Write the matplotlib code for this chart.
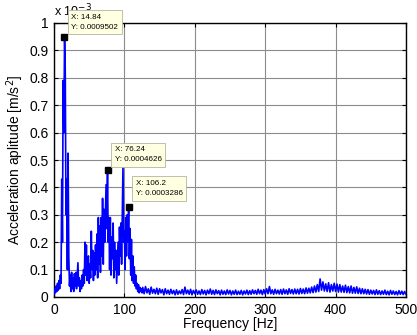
import numpy as np
import matplotlib
matplotlib.use("Agg")
import matplotlib.pyplot as plt

# ------------------------------------------------------------
# Spectrum values (x 10^-3 m/s^2)
# ------------------------------------------------------------
# 0 .. 125 Hz, 1 Hz steps
low_freq = np.arange(0, 126, 1)
low_amp = [
    0.01, 0.03, 0.015, 0.04, 0.02, 0.05, 0.025, 0.06, 0.03, 0.08,
    0.05, 0.43, 0.2, 0.79, 0.6, 0.95, 0.82, 0.3, 0.43, 0.1,
    0.525, 0.15, 0.04, 0.08, 0.02, 0.09, 0.03, 0.07, 0.02, 0.085,
    0.04, 0.09, 0.03, 0.08, 0.125, 0.04, 0.07, 0.02, 0.06, 0.03,
    0.08, 0.04, 0.1, 0.05, 0.2, 0.08, 0.19, 0.06, 0.14, 0.15,
    0.05, 0.12, 0.07, 0.24, 0.1, 0.17, 0.06, 0.16, 0.08, 0.19,
    0.1, 0.23, 0.07, 0.29, 0.12, 0.26, 0.09, 0.29, 0.15, 0.36,
    0.12, 0.32, 0.2, 0.31, 0.41, 0.25, 0.4626, 0.2, 0.29, 0.1,
    0.29, 0.08, 0.22, 0.14, 0.27, 0.07, 0.2, 0.1, 0.17, 0.05,
    0.12, 0.2, 0.08, 0.255, 0.15, 0.27, 0.12, 0.3, 0.48, 0.2,
    0.24, 0.1, 0.29, 0.15, 0.3, 0.2, 0.3286, 0.14, 0.25, 0.08,
    0.21, 0.06, 0.15, 0.05, 0.11, 0.04, 0.08, 0.03, 0.05, 0.02,
    0.045, 0.015, 0.035, 0.02, 0.03, 0.015,
]

# 126 .. 500 Hz, 2 Hz steps
high_freq = np.arange(126, 501, 2)
high_amp = [
    0.035, 0.012, 0.038, 0.015, 0.03, 0.01, 0.036, 0.014, 0.028, 0.012,
    0.032, 0.01, 0.03, 0.015, 0.027, 0.008, 0.03, 0.012, 0.025, 0.01,
    0.028, 0.012, 0.024, 0.008, 0.026, 0.01, 0.022, 0.012, 0.027, 0.009,
    0.036, 0.012, 0.025, 0.01, 0.028, 0.008, 0.024, 0.012, 0.026, 0.01,
    0.022, 0.009, 0.027, 0.011, 0.024, 0.008, 0.025, 0.012, 0.029, 0.01,
    0.024, 0.009, 0.026, 0.012, 0.023, 0.008, 0.025, 0.01, 0.022, 0.009,
    0.026, 0.011, 0.024, 0.008, 0.022, 0.01, 0.025, 0.009, 0.021, 0.01,
    0.024, 0.008, 0.022, 0.011, 0.025, 0.009, 0.023, 0.01, 0.026, 0.012,
    0.024, 0.01, 0.028, 0.012, 0.025, 0.009, 0.027, 0.011, 0.03, 0.012,
    0.038, 0.012, 0.026, 0.01, 0.028, 0.012, 0.025, 0.011, 0.027, 0.01,
    0.029, 0.012, 0.026, 0.01, 0.03, 0.013, 0.027, 0.011, 0.029, 0.012,
    0.028, 0.011, 0.031, 0.013, 0.029, 0.012, 0.033, 0.014, 0.032, 0.015,
    0.036, 0.016, 0.04, 0.018, 0.045, 0.02, 0.066, 0.025, 0.055, 0.022,
    0.048, 0.02, 0.052, 0.018, 0.045, 0.022, 0.05, 0.02, 0.047, 0.018,
    0.045, 0.018, 0.04, 0.017, 0.043, 0.016, 0.038, 0.015, 0.04, 0.014,
    0.035, 0.014, 0.037, 0.013, 0.032, 0.012, 0.03, 0.012, 0.028, 0.011,
    0.027, 0.01, 0.025, 0.011, 0.024, 0.009, 0.026, 0.01, 0.023, 0.009,
    0.022, 0.01, 0.025, 0.009, 0.021, 0.008, 0.024, 0.01, 0.022, 0.009,
    0.02, 0.008, 0.023, 0.01, 0.021, 0.009, 0.02, 0.01,
]

# data tips
tip_x = [14.84, 76.24, 106.2]
tip_y = [0.0009502, 0.0004626, 0.0003286]
tip_offsets = [(7, 6), (7, 7), (7, 10)]

x_ticks = [0, 100, 200, 300, 400, 500]
y_ticks = [0, 0.1, 0.2, 0.3, 0.4, 0.5, 0.6, 0.7, 0.8, 0.9, 1]
y_tick_labels = ["0", "0.1", "0.2", "0.3", "0.4", "0.5", "0.6", "0.7", "0.8", "0.9", "1"]

freq = np.concatenate([low_freq, high_freq])
amp = np.concatenate([low_amp, high_amp])

# ------------------------------------------------------------
# Plot
# ------------------------------------------------------------
plt.rcParams["font.family"] = ["Liberation Sans", "DejaVu Sans"]

fig = plt.figure(figsize=(4.17, 3.35), dpi=100)
ax = fig.add_axes([54 / 417, 38 / 335, 352 / 417, 274 / 335])

ax.plot(freq, amp, color="#0000FF", lw=1.2, zorder=3)

ax.set_xlim(0, 500)
ax.set_ylim(0, 1)
ax.set_xticks(x_ticks)
ax.set_yticks(y_ticks)
ax.set_yticklabels(y_tick_labels)
ax.grid(True, color="#8c8c8c", lw=0.8, zorder=0)
ax.set_axisbelow(True)
ax.tick_params(direction="in", length=3, width=0.8, top=True, right=True,
               labelsize=10, pad=4)
for sp in ax.spines.values():
    sp.set_linewidth(1.0)

ax.set_xlabel("Frequency [Hz]", fontsize=10, labelpad=0)
ax.set_ylabel("Acceleration aplitude [m/s$^2$]", fontsize=10, labelpad=2)

# exponent label (MATLAB style), partly hidden by the first data tip
ax.text(0.0, 1.012, r"x 10$^{-3}$", transform=ax.transAxes, fontsize=9,
        ha="left", va="bottom", zorder=1)

for tx, ty, off in zip(tip_x, tip_y, tip_offsets):
    yv = ty * 1e3
    ax.plot([tx], [yv], marker="s", ms=5, color="black", zorder=6, clip_on=False)
    ax.annotate(f"X: {tx:g}\nY: {ty:.7f}".rstrip("0"), xy=(tx, yv),
                xytext=off, textcoords="offset pixels",
                ha="left", va="bottom", fontsize=5.8, linespacing=1.6,
                bbox=dict(boxstyle="square,pad=0.45", fc="#FFFFE1",
                          ec="#B4B4A0", lw=0.6),
                annotation_clip=False, zorder=7)

fig.savefig("out.png", dpi=100)
